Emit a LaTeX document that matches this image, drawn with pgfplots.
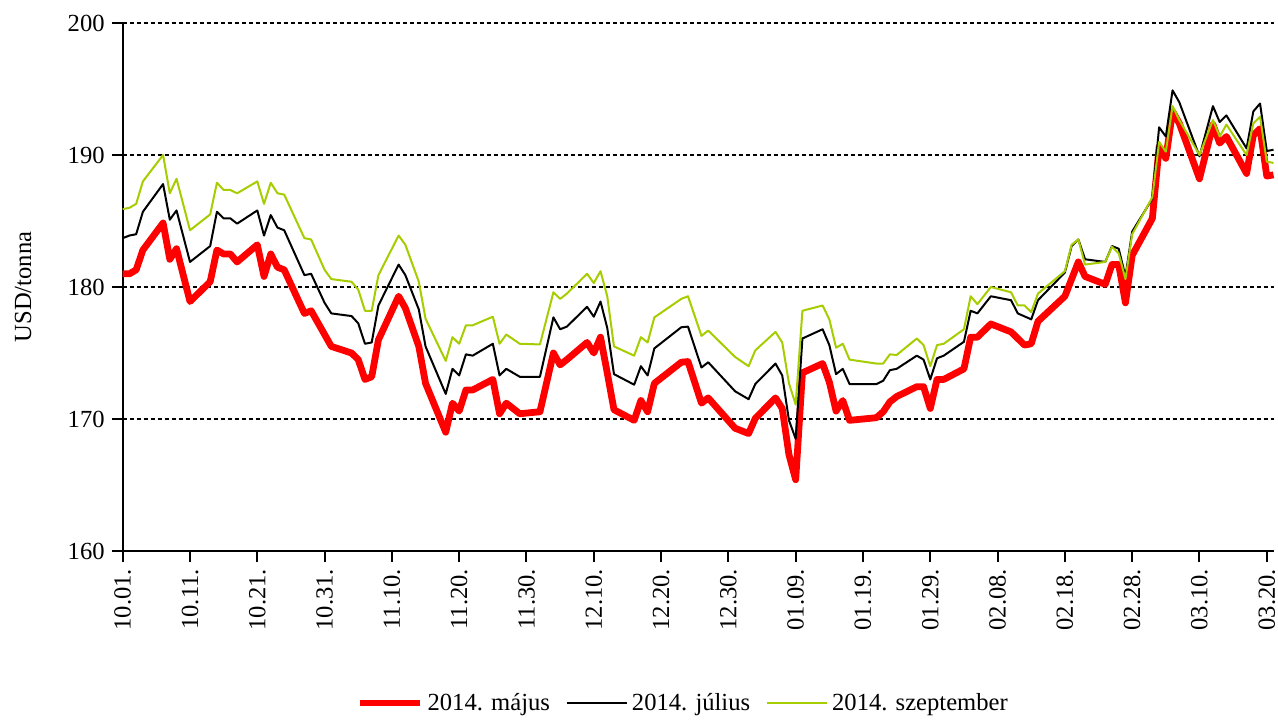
\documentclass[border=0pt]{standalone}
\usepackage{fontspec}
\setmainfont{Liberation Serif}
\usepackage{pgfplots}
\pgfplotsset{compat=1.18}
\definecolor{maycol}{RGB}{255,0,0}
\definecolor{sepcol}{RGB}{165,205,0}
\newcommand{\fs}{\fontsize{12.3}{14}\selectfont}
\begin{document}
\begin{tikzpicture}
\useasboundingbox (-61.35pt,-84pt) rectangle (577.65pt,275.5pt);
\begin{axis}[
  at={(0,0)}, anchor=south west,
  scale only axis, width=575.4pt, height=264pt,
  xmin=0, xmax=171, ymin=160, ymax=200,
  axis x line*=bottom, axis y line*=left,
  axis line style={black, line width=1pt, -},
  tick align=outside, major tick length=5.5pt,
  tick style={black, line width=1pt},
  xtick={0,10,...,170},
  xticklabels={10.01.,10.11.,10.21.,10.31.,11.10.,11.20.,11.30.,12.10.,12.20.,12.30.,01.09.,01.19.,01.29.,02.08.,02.18.,02.28.,03.10.,03.20.},
  xticklabel style={rotate=90, anchor=east, font=\fs},
  ytick={160,170,180,190,200},
  yticklabel style={font=\fs},
  /pgf/number format/assume math mode=true,
  ymajorgrids,
  major grid style={black, line width=0.8pt, dash pattern=on 2pt off 1.5pt},
  ylabel={USD/tonna},
  ylabel style={font=\fs, at={(axis description cs:-0.0866,0.5)}, anchor=center},
  legend columns=3,
  legend style={draw=none, fill=none, font=\fs, at={(axis description cs:0.488,-0.288)}, anchor=center,
    /tikz/every even column/.append style={column sep=6pt}},
  legend image code/.code={\draw[#1] (0pt,0pt) -- (30pt,0pt);},
  clip=false,
]
\addplot[maycol, line width=3.4pt, line join=round] coordinates {
(0,181.0)(1,181.0)(2,181.3)(3,182.8)(6,184.85)(7,182.1)(8,182.9)(10,178.9)
(13,180.4)(14,182.8)(15,182.5)(16,182.5)(17,181.9)(20,183.2)(21,180.8)(22,182.5)
(23,181.5)(24,181.3)(27,178.0)(28,178.2)(31,175.5)(34,175.0)(35,174.5)(36,173.0)
(37,173.2)(38,176.0)(41,179.3)(42,178.4)(44,175.5)(45,172.7)(48,169.0)(49,171.2)
(50,170.6)(51,172.2)(52,172.2)(55,173.0)(56,170.4)(57,171.2)(59,170.4)(62,170.55)
(64,175.0)(65,174.1)(66,174.5)(69,175.8)(70,175.0)(71,176.2)(72,173.5)(73,170.7)
(76,169.9)(77,171.4)(78,170.55)(79,172.7)(83,174.3)(84,174.35)(86,171.2)(87,171.6)
(91,169.3)(93,168.9)(94,170.05)(97,171.6)(98,170.8)(99,167.3)(100,165.4)(101,173.5)
(104,174.2)(105,172.8)(106,170.6)(107,171.4)(108,169.9)(112,170.1)(113,170.55)(114,171.3)
(115,171.7)(118,172.45)(119,172.45)(120,170.8)(121,173.0)(122,173.0)(125,173.8)(126,176.2)
(127,176.2)(129,177.2)(132,176.6)(134,175.6)(135,175.7)(136,177.4)(140,179.3)(142,181.9)
(143,180.8)(146,180.2)(147,181.7)(148,181.7)(149,178.8)(150,182.4)(153,185.2)(154,190.6)
(155,189.75)(156,193.3)(157,192.4)(160,188.2)(162,192.3)(163,190.9)(164,191.4)(167,188.6)
(168,191.5)(169,192.0)(170,188.4)(171,188.5)
};
\addlegendentry{2014. május}
\addplot[black, line width=1pt, line join=round] coordinates {
(0,183.7)(1,183.9)(2,184.0)(3,185.7)(6,187.8)(7,185.1)(8,185.8)(10,181.9)
(13,183.1)(14,185.7)(15,185.2)(16,185.2)(17,184.8)(20,185.8)(21,183.9)(22,185.45)
(23,184.5)(24,184.3)(27,180.9)(28,181.0)(30,178.8)(31,178.0)(34,177.8)(35,177.25)
(36,175.7)(37,175.8)(38,178.6)(41,181.7)(42,180.9)(44,178.3)(45,175.5)(48,171.9)
(49,173.8)(50,173.3)(51,174.9)(52,174.8)(55,175.7)(56,173.3)(57,173.8)(59,173.2)
(62,173.2)(64,177.7)(65,176.8)(66,177.0)(69,178.5)(70,177.75)(71,178.9)(72,176.9)
(73,173.4)(76,172.6)(77,174.0)(78,173.3)(79,175.35)(83,176.95)(84,177.0)(86,173.9)
(87,174.3)(91,172.1)(93,171.5)(94,172.65)(97,174.2)(98,173.3)(99,169.9)(100,168.5)
(101,176.1)(104,176.8)(105,175.6)(106,173.4)(107,173.8)(108,172.65)(112,172.65)(113,172.9)
(114,173.7)(115,173.8)(118,174.8)(119,174.5)(120,173.0)(121,174.6)(122,174.8)(125,175.85)
(126,178.2)(127,178.0)(129,179.3)(132,179.0)(133,178.0)(135,177.55)(136,179.0)(140,181.1)
(141,183.1)(142,183.6)(143,182.1)(146,181.9)(147,183.1)(148,182.9)(149,180.8)(150,184.2)
(153,186.7)(154,192.1)(155,191.4)(156,194.9)(157,194.0)(160,189.9)(162,193.7)(163,192.5)
(164,193.0)(167,190.5)(168,193.3)(169,193.9)(170,190.3)(171,190.4)
};
\addlegendentry{2014. július}
\addplot[sepcol, line width=1pt, line join=round] coordinates {
(0,185.9)(1,186.0)(2,186.3)(3,188.0)(6,190.0)(7,187.1)(8,188.2)(10,184.3)
(13,185.5)(14,187.9)(15,187.35)(16,187.35)(17,187.1)(20,188.0)(21,186.3)(22,187.9)
(23,187.1)(24,187.0)(27,183.7)(28,183.6)(30,181.3)(31,180.6)(34,180.4)(35,179.8)
(36,178.2)(37,178.2)(38,180.9)(41,183.9)(42,183.2)(44,180.4)(45,177.6)(48,174.4)
(49,176.2)(50,175.7)(51,177.1)(52,177.1)(55,177.75)(56,175.7)(57,176.4)(59,175.7)
(62,175.65)(64,179.6)(65,179.1)(66,179.5)(69,181.0)(70,180.3)(71,181.2)(72,179.3)
(73,175.5)(76,174.8)(77,176.2)(78,175.8)(79,177.7)(83,179.1)(84,179.3)(86,176.3)
(87,176.7)(91,174.7)(93,174.0)(94,175.2)(97,176.6)(98,175.8)(99,172.7)(100,171.1)
(101,178.2)(104,178.6)(105,177.55)(106,175.4)(107,175.7)(108,174.5)(112,174.2)(113,174.2)
(114,174.9)(115,174.85)(118,176.1)(119,175.6)(120,174.0)(121,175.6)(122,175.7)(125,176.8)
(126,179.3)(127,178.7)(129,180.0)(132,179.6)(133,178.6)(134,178.6)(135,178.1)(136,179.5)
(140,181.2)(141,183.2)(142,183.6)(143,181.7)(146,181.9)(147,183.05)(148,182.55)(149,180.6)
(150,184.0)(153,186.8)(154,191.0)(155,190.25)(156,193.7)(157,192.65)(160,190.0)(162,192.65)
(163,191.4)(164,192.3)(167,190.0)(168,192.4)(169,192.9)(170,189.5)(171,189.4)
};
\addlegendentry{2014. szeptember}
\end{axis}
\end{tikzpicture}
\end{document}
